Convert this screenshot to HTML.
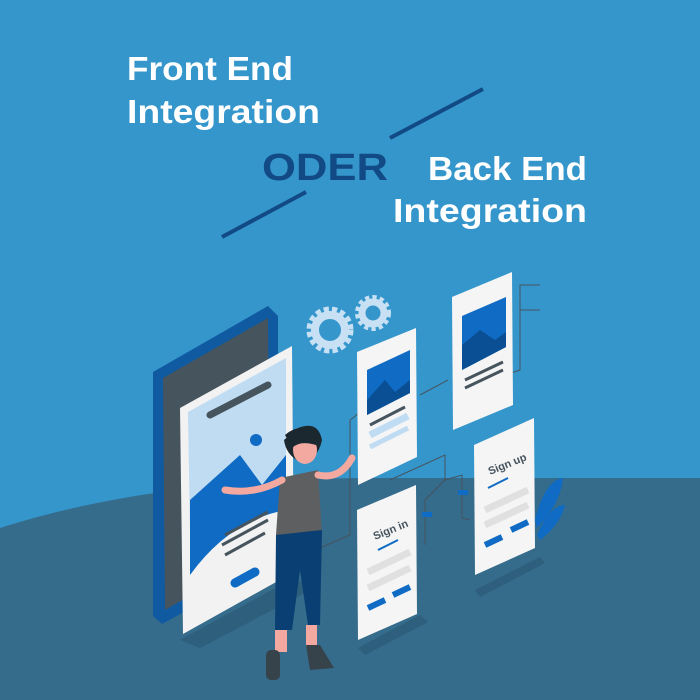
<!DOCTYPE html>
<html><head><style>
html,body{margin:0;padding:0;width:700px;height:700px;overflow:hidden;background:#3596cc}
svg{display:block}
</style></head><body>
<svg width="700" height="700" viewBox="0 0 700 700" xmlns="http://www.w3.org/2000/svg" font-family="Liberation Sans, sans-serif">
<rect width="700" height="700" fill="#3596cc"/>
<path d="M0 528 Q150 480 360 478 L700 478 L700 700 L0 700 Z" fill="#356b8b"/>
<!-- titles -->
<g fill="#fff" font-weight="bold" font-size="33">
<text x="127" y="80" textLength="166" lengthAdjust="spacingAndGlyphs">Front End</text>
<text x="127" y="123" textLength="193" lengthAdjust="spacingAndGlyphs">Integration</text>
<text x="428" y="180" textLength="159" lengthAdjust="spacingAndGlyphs">Back End</text>
<text x="393" y="222" textLength="194" lengthAdjust="spacingAndGlyphs">Integration</text>
</g>
<text x="262" y="180" font-weight="bold" font-size="38" fill="#124a85" textLength="126" lengthAdjust="spacingAndGlyphs">ODER</text>
<line x1="222" y1="237" x2="306" y2="192" stroke="#124a85" stroke-width="4"/>
<line x1="390" y1="138" x2="483" y2="89" stroke="#124a85" stroke-width="4"/>
<!-- shadows -->
<polygon points="180,640 290,580 320,585 200,648" fill="#2e5f7c"/>
<polygon points="358,648 420,615 428,622 365,655" fill="#2e5f7c"/>
<polygon points="475,590 540,557 545,563 480,597" fill="#2e5f7c"/>
<!-- big phone -->
<polygon points="153,372 268,306 278,316 278,560 162,624 153,616" fill="#0f5aa0"/>
<polygon points="163,378 268,318 270,550 165,610" fill="#46545e"/>
<polygon points="180,408 292,346 294,572 183,634" fill="#f2f2f2"/>
<polygon points="188,412 286,358 286,470 190,530" fill="#bfdcf3"/>
<polygon points="190,500 240,455 262,485 286,455 286,520 190,575" fill="#0f6bc4"/>
<path d="M190 575 Q230 520 286 510 L286 565 L190 618 Z" fill="#f2f2f2"/>
<line x1="210" y1="415" x2="268" y2="385" stroke="#46545e" stroke-width="7" stroke-linecap="round"/>
<circle cx="256" cy="440" r="6" fill="#0f6bc4"/>
<line x1="225" y1="535" x2="268" y2="512" stroke="#46545e" stroke-width="3"/>
<line x1="222" y1="545" x2="268" y2="520" stroke="#46545e" stroke-width="3"/>
<line x1="225" y1="555" x2="265" y2="533" stroke="#46545e" stroke-width="3"/>
<line x1="235" y1="583" x2="255" y2="572" stroke="#0f6bc4" stroke-width="9" stroke-linecap="round"/>
<!-- gears -->
<circle cx="330" cy="330" r="20" fill="none" stroke="#c7e0f3" stroke-width="7" stroke-dasharray="5 3"/>
<circle cx="330" cy="330" r="15" fill="none" stroke="#c7e0f3" stroke-width="8"/>
<circle cx="373" cy="313" r="15" fill="none" stroke="#c7e0f3" stroke-width="6" stroke-dasharray="4 3"/>
<circle cx="373" cy="313" r="11" fill="none" stroke="#c7e0f3" stroke-width="7"/>
<!-- connectors -->
<g stroke="#46545e" stroke-width="1" fill="none">
<polyline points="350,420 350,535 315,550"/>
<polyline points="350,420 370,405"/>
<polyline points="420,395 448,380"/>
<polyline points="490,380 520,370 520,285 540,285"/>
<polyline points="520,310 540,310 M520,335 540,330 M520,355 540,355"/>
<polyline points="390,480 445,455 445,480 425,500 425,545"/>
<polyline points="445,480 462,475 462,518 470,520"/>
</g>
<rect x="458" y="490" width="10" height="5" fill="#0f6bc4"/>
<rect x="422" y="512" width="10" height="5" fill="#0f6bc4"/>
<!-- card 1 -->
<polygon points="357,352 416,328 417,457 358,485" fill="#f5f5f5"/>
<polygon points="367,370 410,350 410,393 367,415" fill="#0f6bc4"/>
<polygon points="367,400 385,380 395,392 410,380 410,393 367,415" fill="#0a4f93"/>
<line x1="370" y1="425" x2="405" y2="407" stroke="#46545e" stroke-width="3"/>
<line x1="370" y1="435" x2="408" y2="416" stroke="#bfdcf3" stroke-width="7"/>
<line x1="370" y1="447" x2="408" y2="428" stroke="#bfdcf3" stroke-width="5"/>
<!-- card 2 -->
<polygon points="452,297 512,272 513,405 453,430" fill="#f5f5f5"/>
<polygon points="462,316 506,297 506,347 462,370" fill="#0f6bc4"/>
<polygon points="462,345 480,330 495,340 506,332 506,347 462,370" fill="#0a4f93"/>
<line x1="465" y1="380" x2="503" y2="362" stroke="#46545e" stroke-width="3"/>
<line x1="465" y1="388" x2="503" y2="370" stroke="#46545e" stroke-width="3"/>
<!-- sign in -->
<polygon points="357,510 416,485 417,614 358,640" fill="#f5f5f5"/>
<text x="0" y="0" font-size="11" font-weight="bold" fill="#46545e" transform="translate(375,540) rotate(-22)">Sign in</text>
<line x1="378" y1="550" x2="398" y2="540" stroke="#0f6bc4" stroke-width="2"/>
<line x1="368" y1="572" x2="410" y2="552" stroke="#e0e0e0" stroke-width="7"/>
<line x1="368" y1="588" x2="410" y2="568" stroke="#e0e0e0" stroke-width="7"/>
<line x1="368" y1="608" x2="385" y2="600" stroke="#0f6bc4" stroke-width="6"/>
<line x1="393" y1="595" x2="410" y2="587" stroke="#0f6bc4" stroke-width="6"/>
<!-- sign up -->
<polygon points="474,445 534,418 535,548 475,575" fill="#f5f5f5"/>
<text font-size="11" font-weight="bold" fill="#46545e" transform="translate(490,475) rotate(-22)">Sign up</text>
<line x1="488" y1="488" x2="508" y2="478" stroke="#0f6bc4" stroke-width="2"/>
<line x1="485" y1="510" x2="528" y2="490" stroke="#e0e0e0" stroke-width="7"/>
<line x1="485" y1="525" x2="528" y2="505" stroke="#e0e0e0" stroke-width="7"/>
<line x1="485" y1="545" x2="502" y2="537" stroke="#0f6bc4" stroke-width="6"/>
<line x1="511" y1="530" x2="528" y2="522" stroke="#0f6bc4" stroke-width="6"/>
<!-- leaves -->
<path d="M535 520 Q545 480 563 478 Q560 505 537 528 Z" fill="#0f6bc4"/>
<path d="M537 535 Q550 505 565 505 Q560 525 540 540 Z" fill="#0f6bc4"/>
<!-- woman -->
<path d="M298 428 Q318 420 322 440 Q318 460 300 462 Q286 455 284 440 Z" fill="#1b2830"/>
<ellipse cx="305" cy="450" rx="12" ry="14" fill="#f4a9a0"/>
<path d="M285 435 Q300 422 318 432 L316 445 Q300 440 292 448 Z" fill="#1b2830"/>
<polygon points="280,478 318,470 322,535 276,535" fill="#5d5f60"/>
<path d="M282 480 Q255 495 225 490" stroke="#f4a9a0" stroke-width="7" fill="none" stroke-linecap="round"/>
<path d="M318 475 Q340 480 352 458" stroke="#f4a9a0" stroke-width="7" fill="none" stroke-linecap="round"/>
<polygon points="276,535 322,530 320,625 308,625 300,570 292,630 275,630" fill="#0a3f73"/>
<rect x="275" y="630" width="12" height="22" fill="#f4a9a0"/>
<rect x="306" y="625" width="11" height="22" fill="#f4a9a0"/>
<rect x="266" y="650" width="14" height="30" rx="5" fill="#37434a"/>
<path d="M306 645 L320 645 L334 668 L310 670 Z" fill="#37434a"/>
</svg>
</body></html>
